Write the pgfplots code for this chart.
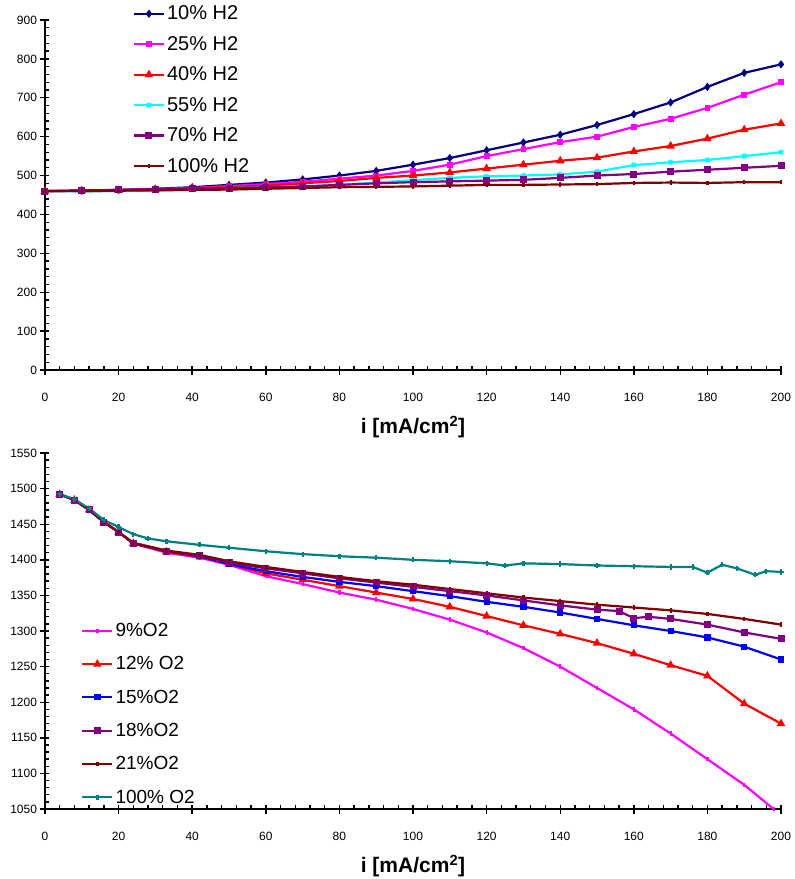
\documentclass[border=0pt]{standalone}
\usepackage{pgfplots}
\pgfplotsset{compat=1.18}
\usepackage{fontspec}
\setmainfont{Liberation Sans}

\definecolor{cNavy}{RGB}{0,0,128}
\definecolor{cMag}{RGB}{255,0,255}
\definecolor{cRed}{RGB}{255,0,0}
\definecolor{cCyan}{RGB}{0,255,255}
\definecolor{cPurple}{RGB}{128,0,128}
\definecolor{cBrown}{RGB}{128,0,0}
\definecolor{cBlue}{RGB}{0,0,255}
\definecolor{cTeal}{RGB}{0,128,128}

\pgfplotsset{
  every axis/.append style={
    scale only axis,
    width=736pt,
    xmin=0, xmax=200,
    xtick distance=20,
    minor x tick num=4,
    minor y tick num=4,
    axis x line*=bottom,
    axis y line*=left,
    axis line style={line width=2pt},
    tick style={black, line width=1.4pt},
    tick align=center,
    major tick length=9pt,
    minor tick length=4pt,
    minor x tick style={yshift=2pt},
    minor y tick style={xshift=2pt},
    /pgf/number format/assume math mode=true,
    /pgf/number format/1000 sep={},
    tick label style={font=\fontsize{12}{14}\selectfont},
    xticklabel style={yshift=-15pt},
    xlabel={\textbf{i [mA/cm\textsuperscript{2}]}},
    xlabel style={font=\fontsize{21}{24}\selectfont,
      at={(axis description cs:0.5,0)}, anchor=center, yshift=-57pt},
    legend cell align=left,
    legend image code/.code={
      \draw[mark repeat=2,mark phase=2,#1] plot coordinates {(0pt,0pt) (15pt,0pt) (30pt,0pt)};},
    every axis plot/.append style={line width=2.2pt, mark size=2.4pt, mark options={solid}},
  }
}

\begin{document}
\begin{tikzpicture}
\useasboundingbox (-45pt,-509pt) rectangle (750pt,370pt);

% upper chart
\begin{axis}[
  at={(0pt,0pt)}, anchor=south west,
  height=350pt,
  ymin=0, ymax=900,
  ytick distance=100,
  legend style={draw=none, fill=none, at={(0.115,1.052)}, anchor=north west,
    font=\fontsize{20}{22}\selectfont, row sep=11pt},
]
\addplot[cNavy, mark=diamond*] coordinates {(0,460) (10,461) (20,463) (30,466) (40,470) (50,476) (60,482) (70,490) (80,500) (90,512) (100,528) (110,545) (120,565) (130,585) (140,605) (150,630) (160,658) (170,688) (180,728) (190,764) (200,786)};
\addplot[cMag, mark=square*, mark size=1.8pt] coordinates {(0,460) (10,461) (20,463) (30,465) (40,468) (50,473) (60,478) (70,484) (80,492) (90,500) (100,512) (110,528) (120,550) (130,568) (140,586) (150,600) (160,625) (170,646) (180,674) (190,708) (200,740)};
\addplot[cRed, mark=triangle*, mark size=2.8pt] coordinates {(0,460) (10,461) (20,462) (30,464) (40,467) (50,470) (60,474) (70,480) (80,486) (90,494) (100,500) (110,508) (120,518) (130,528) (140,538) (150,546) (160,562) (170,576) (180,595) (190,618) (200,634)};
\addplot[cCyan, mark=x, mark size=2.8pt] coordinates {(0,460) (10,459) (20,460) (30,462) (40,464) (50,468) (60,470) (70,472) (80,476) (90,482) (100,488) (110,494) (120,498) (130,500) (140,503) (150,510) (160,527) (170,534) (180,540) (190,550) (200,560)};
\addplot[cPurple, mark=square*] coordinates {(0,460) (10,462) (20,463) (30,465) (40,467) (50,468) (60,470) (70,472) (80,476) (90,480) (100,483) (110,485) (120,487) (130,489) (140,494) (150,500) (160,504) (170,510) (180,515) (190,520) (200,525)};
\addplot[cBrown, mark=|, mark size=2.2pt] coordinates {(0,460) (10,460) (20,461) (30,462) (40,463) (50,464) (60,466) (70,468) (80,470) (90,471) (100,472) (110,474) (120,476) (130,476) (140,477) (150,478) (160,481) (170,482) (180,481) (190,483) (200,483)};
\legend{10\% H2,25\% H2,40\% H2,55\% H2,70\% H2,100\% H2}
\end{axis}

% lower chart
\begin{axis}[
  at={(0pt,-439pt)}, anchor=south west,
  height=356pt,
  ymin=1050, ymax=1550,
  ytick distance=50,
  legend style={draw=none, fill=none, at={(0.045,0.533)}, anchor=north west,
    font=\fontsize{19}{21}\selectfont, row sep=14.5pt},
]
\addplot[cMag, mark=|, mark size=2.2pt] coordinates {(4,1492) (8,1484) (12,1470) (16,1453) (20,1439) (24,1423) (33,1410) (42,1403) (50,1393) (60,1377) (70,1366) (80,1354) (90,1344) (100,1331) (110,1316) (120,1298) (130,1276) (140,1250) (150,1220) (160,1190) (170,1156) (180,1120) (190,1084) (198,1050)};
\addplot[cRed, mark=triangle*, mark size=2.8pt] coordinates {(4,1492) (8,1484) (12,1470) (16,1453) (20,1439) (24,1423) (33,1411) (42,1404) (50,1394) (60,1381) (70,1372) (80,1363) (90,1354) (100,1345) (110,1334) (120,1321) (130,1308) (140,1296) (150,1283) (160,1268) (170,1252) (180,1237) (190,1198) (200,1170)};
\addplot[cBlue, mark=square*, mark size=2pt] coordinates {(4,1492) (8,1484) (12,1470) (16,1453) (20,1439) (24,1423) (33,1412) (42,1405) (50,1394) (60,1384) (70,1376) (80,1369) (90,1363) (100,1356) (110,1349) (120,1341) (130,1334) (140,1326) (150,1317) (160,1308) (170,1300) (180,1291) (190,1278) (200,1260)};
\addplot[cPurple, mark=square*] coordinates {(4,1492) (8,1484) (12,1470) (16,1453) (20,1439) (24,1423) (33,1412) (42,1406) (50,1396) (60,1388) (70,1381) (80,1374) (90,1368) (100,1362) (110,1356) (120,1350) (130,1343) (140,1336) (150,1330) (156,1328) (160,1318) (164,1320) (170,1317) (180,1309) (190,1298) (200,1289)};
\addplot[cBrown, mark=|, mark size=2.2pt] coordinates {(4,1492) (8,1484) (12,1470) (16,1453) (20,1439) (24,1424) (33,1413) (42,1407) (50,1398) (60,1390) (70,1383) (80,1376) (90,1370) (100,1365) (110,1359) (120,1353) (130,1347) (140,1342) (150,1337) (160,1333) (170,1329) (180,1324) (190,1317) (200,1309)};
\addplot[cTeal, mark=+, mark size=2.6pt] coordinates {(4,1492) (8,1485) (12,1472) (16,1456) (20,1446) (24,1436) (28,1430) (33,1426) (42,1421) (50,1417) (60,1412) (70,1408) (80,1405) (90,1403) (100,1400) (110,1398) (120,1395) (125,1392) (130,1395) (140,1394) (150,1392) (160,1391) (170,1390) (176,1390) (180,1382) (184,1393) (188,1388) (193,1379) (196,1384) (200,1383)};
\legend{9\%O2,12\% O2,15\%O2,18\%O2,21\%O2,100\% O2}
\end{axis}
\end{tikzpicture}
\end{document}
